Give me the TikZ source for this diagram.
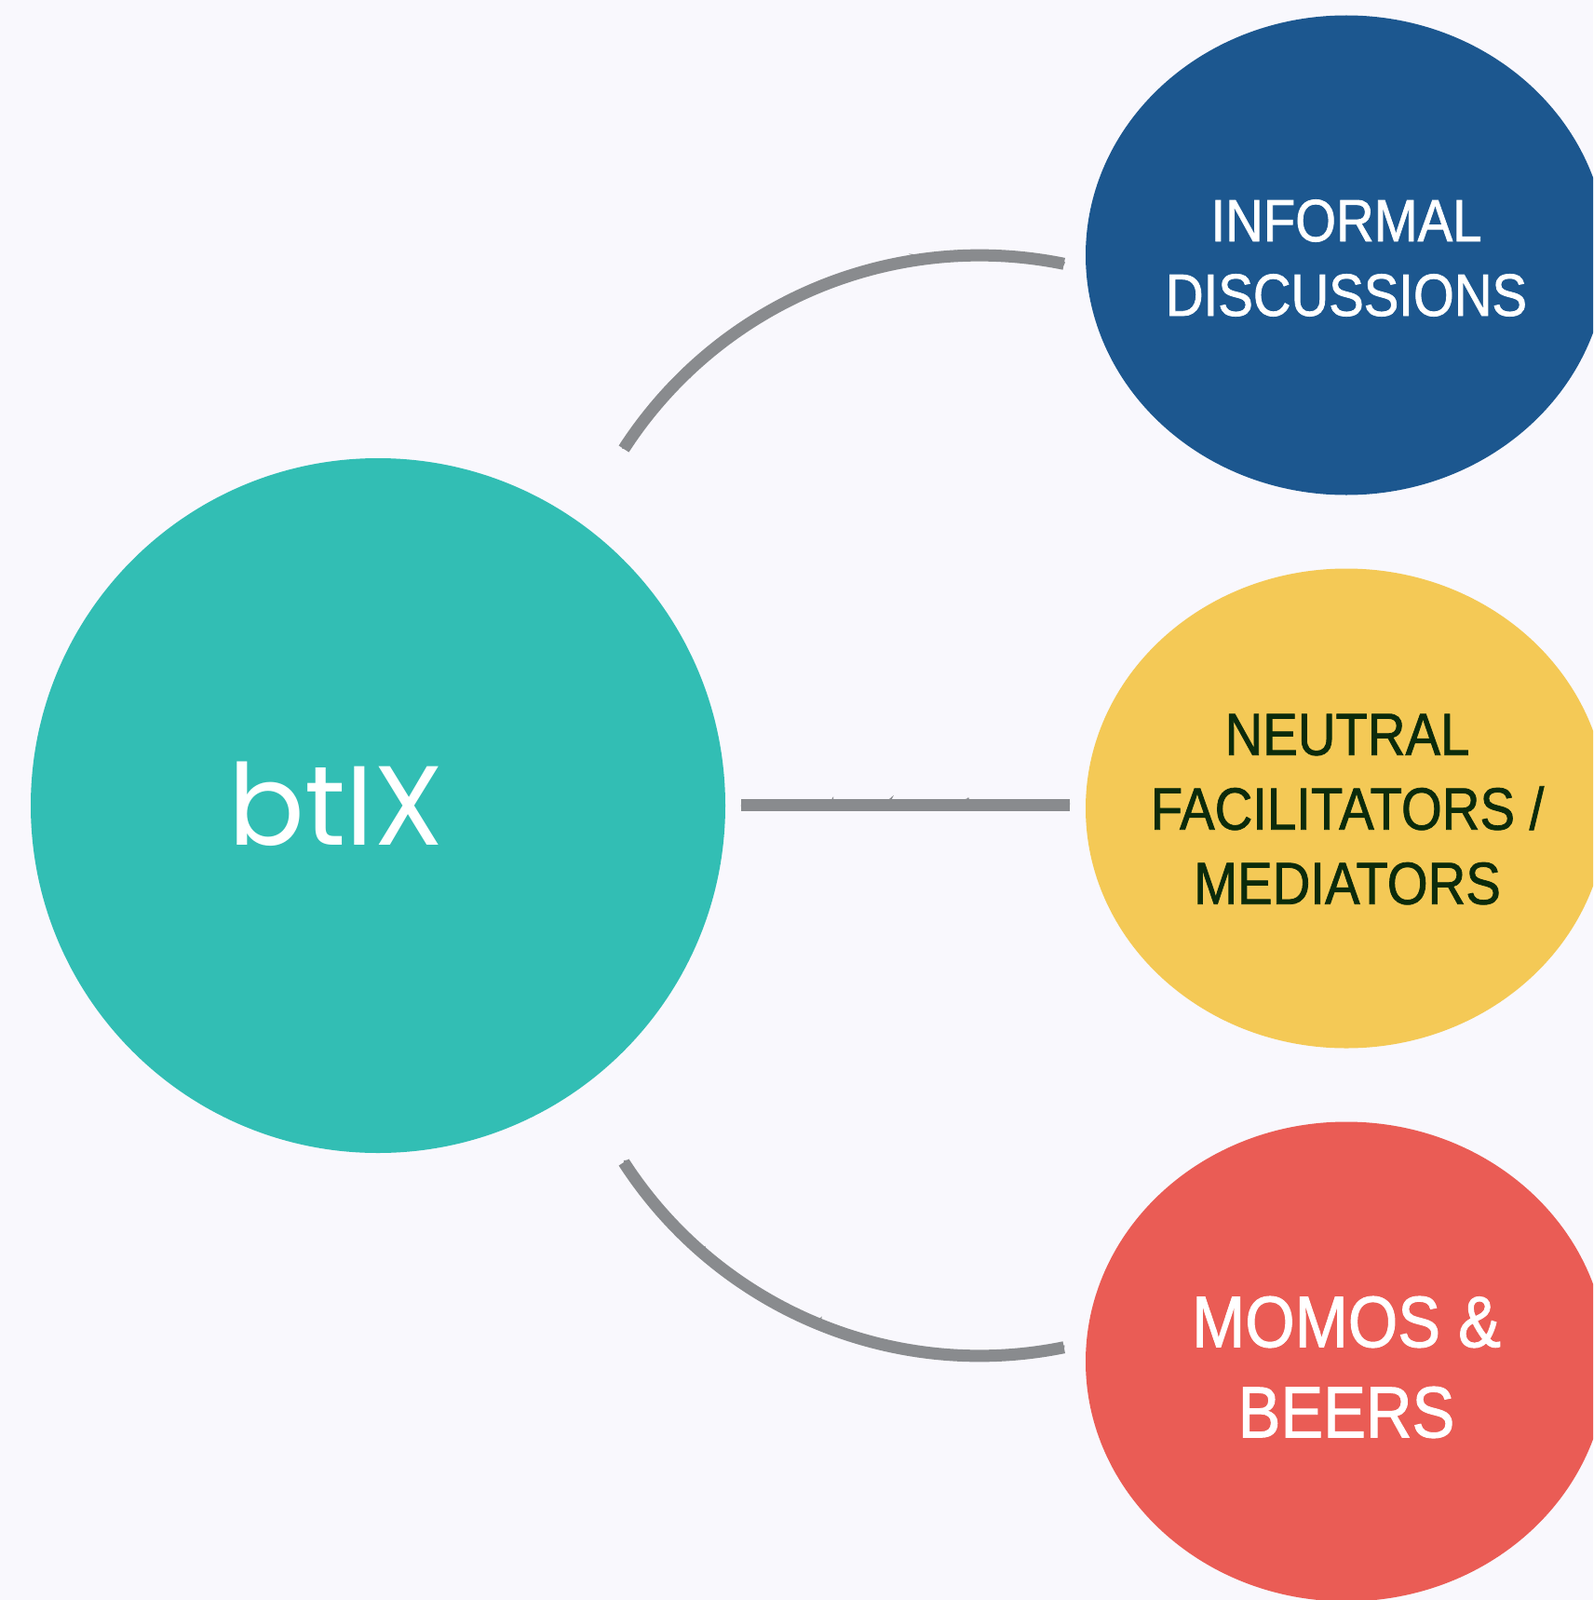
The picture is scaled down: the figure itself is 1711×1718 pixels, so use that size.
\documentclass[tikz,border=0pt]{standalone}
\usepackage{fontspec}
\setmainfont{Liberation Sans}
\newfontfamily\capsfont[FakeStretch=0.88,FakeBold=1.2]{Liberation Sans}
\newfontfamily\logofont{Poppins}
\usetikzlibrary{shapes.geometric,decorations.pathmorphing}
\definecolor{bgc}{HTML}{F9F8FD}
\definecolor{tealc}{HTML}{32BEB4}
\definecolor{bluec}{HTML}{1C578F}
\definecolor{yellowc}{HTML}{F4C956}
\definecolor{redc}{HTML}{EA5C55}
\definecolor{greentxt}{HTML}{0B2B0B}
\definecolor{linkgray}{HTML}{898B8E}
\begin{document}
\begin{tikzpicture}[x=1pt,y=-1pt,
  bubble/.style={ellipse, inner sep=0pt, minimum width=560pt, minimum height=515pt},
  link/.style={draw=linkgray, line width=13pt},
  rough/.style={draw=linkgray, line width=4pt, decorate,
    decoration={random steps, segment length=4pt, amplitude=3pt}},
  lbl/.style={align=center, inner sep=0pt, font=\capsfont\fontsize{64}{80}\selectfont}]
\fill[bgc] (0,0) rectangle (1711,1718);
\useasboundingbox (0,0) rectangle (1711,1718);
\clip (0,0) rectangle (1711,1718);
% nodes
\node[circle, fill=tealc, minimum size=746pt, inner sep=0pt] (main) at (406,865) {};
\node[bubble, fill=bluec] (inf) at (1446,274) {};
\node[bubble, fill=yellowc] (neu) at (1446,868) {};
\node[bubble, fill=redc] (mom) at (1446,1462) {};
% labels
\node[text=white, font=\logofont\fontsize{121}{130}\selectfont, anchor=base, inner sep=0pt] (logo) at (361,907) {btIX};
\node[lbl, text=white] (infT) at (1446,277) {INFORMAL\\DISCUSSIONS};
\node[lbl, text=greentxt] (neuT) at (1447,869) {NEUTRAL\\FACILITATORS /\\MEDIATORS};
\node[lbl, text=white, font=\capsfont\fontsize{78}{97}\selectfont] (momT) at (1446,1468) {MOMOS \&\\BEERS};
% connectors
\coordinate (a1) at (670,482);
\coordinate (m1) at (796,864);
\coordinate (m2) at (1149,864);
\coordinate (b1) at (670,1248);
\draw[link] (a1) arc[start angle=-147.1, end angle=-78.5, radius=455];
\draw[rough] (a1) arc[start angle=-147.1, end angle=-78.5, radius=455];
\draw[link] (m1) -- (m2);
\draw[rough] (m1) -- (m2);
\draw[link] (b1) arc[start angle=147.1, end angle=78.5, radius=455];
\draw[rough] (b1) arc[start angle=147.1, end angle=78.5, radius=455];
\end{tikzpicture}
\end{document}
